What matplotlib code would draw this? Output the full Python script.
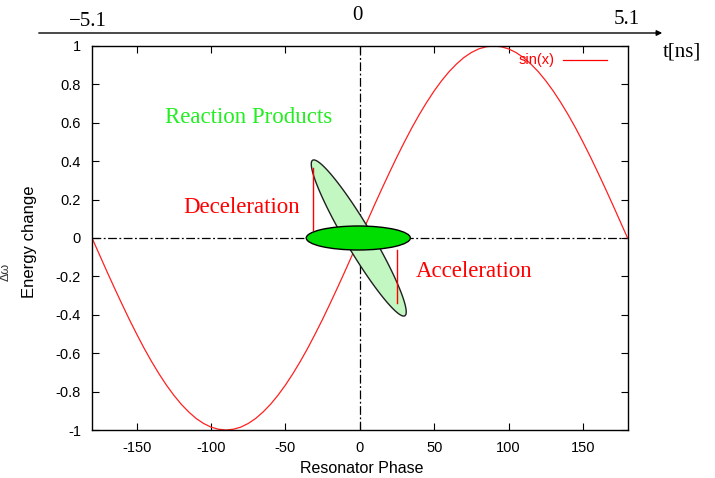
import matplotlib

matplotlib.use("Agg")

import matplotlib.pyplot as plt
import numpy as np
from matplotlib.patches import Ellipse, FancyArrowPatch, Polygon

plt.rcParams["axes.unicode_minus"] = False

# sin(x) every 5 degrees
phase = list(range(-180, 181, 5))
energy = [
    0.0, -0.087, -0.174, -0.259, -0.342, -0.423, -0.5, -0.574, -0.643, -0.707,
    -0.766, -0.819, -0.866, -0.906, -0.94, -0.966, -0.985, -0.996, -1.0,
    -0.996, -0.985, -0.966, -0.94, -0.906, -0.866, -0.819, -0.766, -0.707,
    -0.643, -0.574, -0.5, -0.423, -0.342, -0.259, -0.174, -0.087, 0.0,
    0.087, 0.174, 0.259, 0.342, 0.423, 0.5, 0.574, 0.643, 0.707,
    0.766, 0.819, 0.866, 0.906, 0.94, 0.966, 0.985, 0.996, 1.0,
    0.996, 0.985, 0.966, 0.94, 0.906, 0.866, 0.819, 0.766, 0.707,
    0.643, 0.574, 0.5, 0.423, 0.342, 0.259, 0.174, 0.087, 0.0,
]

x_ticks = [-150, -100, -50, 0, 50, 100, 150]
y_ticks = [-1, -0.8, -0.6, -0.4, -0.2, 0, 0.2, 0.4, 0.6, 0.8, 1]
time_labels = ["\u22125.1", "0", "5.1"]

# tilted bunch: centre, half major axis, half minor axis (data units)
bunch_centre = (-0.7, 0.0)
bunch_major = (-31.0, 0.405)
bunch_minor = (7.6, 0.036)
# beam ellipse on the axis
beam_centre = (-1.0, 0.0)
beam_width = 70
beam_height = 0.125
# red markers: (phase, energy top/bottom)
decel_marker = (-31.6, 0.365)
accel_marker = (24.8, -0.34)

serif = "Liberation Serif"
sans = "Liberation Sans"

fig = plt.figure(figsize=(7.15, 4.78), dpi=100)
ax = fig.add_axes([0.1287, 0.1004, 0.749, 0.8034])

ax.plot(phase, energy, color="#ff2020", linewidth=0.9, zorder=2)

ax.axhline(0, color="black", linewidth=0.9, linestyle=(0, (7, 2, 1.5, 2)), zorder=1)
ax.axvline(0, color="black", linewidth=0.9, linestyle=(0, (7, 2, 1.5, 2)), zorder=1)

t = np.linspace(0, 2 * np.pi, 200)
bx = bunch_centre[0] + bunch_major[0] * np.cos(t) + bunch_minor[0] * np.sin(t)
by = bunch_centre[1] + bunch_major[1] * np.cos(t) + bunch_minor[1] * np.sin(t)
ax.add_patch(Polygon(np.column_stack([bx, by]), closed=True, facecolor="#c2f7c2",
                     edgecolor="#202020", linewidth=1.0, zorder=3))
ax.add_patch(Ellipse(beam_centre, beam_width, beam_height, facecolor="#00dd00",
                     edgecolor="black", linewidth=1.0, zorder=4))

ax.plot([decel_marker[0]] * 2, [0.04, decel_marker[1]], color="red", linewidth=1.0, zorder=5)
ax.plot([accel_marker[0]] * 2, [-0.06, accel_marker[1]], color="red", linewidth=1.0, zorder=5)

ax.text(-74.6, 0.63, "Reaction Products", color="#22ee22", fontsize=16.5,
        family=serif, ha="center", va="center")
ax.text(-79.6, 0.16, "Deceleration", color="red", fontsize=16.5,
        family=serif, ha="center", va="center")
ax.text(76.9, -0.172, "Acceleration", color="red", fontsize=16.5,
        family=serif, ha="center", va="center")

# legend drawn gnuplot style
ax.text(131, 0.925, "sin(x)", color="red", fontsize=10.5, family=sans, ha="right", va="center")
ax.plot([136.3, 166.5], [0.925, 0.925], color="red", linewidth=0.9)

ax.set_xlim(-180, 180)
ax.set_ylim(-1, 1)
ax.set_xticks(x_ticks)
ax.set_yticks(y_ticks)
ax.set_yticklabels([f"{v:g}" for v in y_ticks])
ax.tick_params(direction="in", length=5, top=True, right=True, labelsize=10.5, pad=8)
for label in ax.get_xticklabels() + ax.get_yticklabels():
    label.set_family(sans)
for spine in ax.spines.values():
    spine.set_linewidth(1.0)

ax.set_xlabel("Resonator Phase", family=sans, fontsize=11.5, va="center")
ax.xaxis.set_label_coords(0.504, -0.099)
ax.set_ylabel("Energy change", family=sans, fontsize=12, va="center")
ax.yaxis.set_label_coords(-0.116, 0.49)
fig.text(6 / 715, 1 - 272 / 478, "\u0394\u03c9", rotation=90, fontsize=9, family=sans,
         ha="center", va="center", color="#333333")

# time axis above the plot
fig.add_artist(FancyArrowPatch(
    (36 / 715, 1 - 33 / 478), (665 / 715, 1 - 33 / 478),
    transform=fig.transFigure, arrowstyle="-|>", mutation_scale=8,
    color="black", linewidth=1.0))
for xpos, ypos, lab in zip([88, 357, 627], [21, 15, 19], time_labels):
    fig.text(xpos / 715, 1 - ypos / 478, lab, family=serif, fontsize=15,
             ha="center", va="center")
fig.text(682 / 715, 1 - 52 / 478, "t[ns]", family=serif, fontsize=15,
         ha="center", va="center")

fig.savefig("out.png", dpi=100)
